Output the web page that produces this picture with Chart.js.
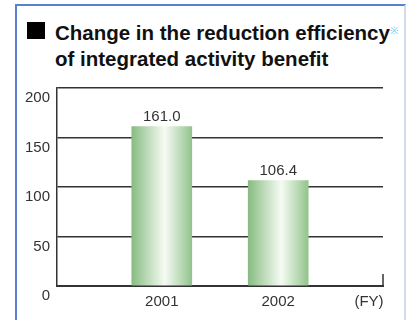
<!DOCTYPE html>
<html>
<head>
<meta charset="utf-8">
<script src="https://cdn.jsdelivr.net/npm/chart.js@4.4.0/dist/chart.umd.min.js"></script>
<style>
  html, body { margin:0; padding:0; background:#fff; }
  #wrap { position:relative; width:406px; height:320px; overflow:hidden; background:#fff; }
  #frame { position:absolute; left:15px; top:4px; width:387px; height:330px;
           border-left:2px solid #5b80cf; border-top:2px solid #5b80cf; border-right:2px solid #d3dbe9; }
  #title { position:absolute; left:55px; top:19.5px; font-family:"Liberation Sans", Arial, sans-serif;
           font-weight:bold; font-size:20.5px; line-height:26px; color:#111; white-space:nowrap; }
  #sq { position:absolute; left:27px; top:22px; width:18px; height:17px; background:#000; }
  #mark { font-size:10px; color:#7cc6ee; vertical-align:top; position:relative; top:-2px; font-weight:normal; }
  canvas { position:absolute; left:0; top:0; }
</style>
</head>
<body>
<div id="wrap">
  <div id="frame"></div>
  <div id="sq"></div>
  <div id="title">Change in the reduction efficiency<span id="mark">※</span><br>of integrated activity benefit</div>
  <canvas id="c" width="406" height="320"></canvas>
</div>
<script>
const categories = ['2001', '2002'];
const values = [161.0, 106.4];
const valueLabels = ['161.0', '106.4'];
const yTicks = [0, 50, 100, 150, 200];
const unitLabel = '(FY)';

const FONT = '"Liberation Sans", Arial, sans-serif';

const valueLabelPlugin = {
  id: 'valueLabels',
  afterDatasetsDraw(chart) {
    const ctx = chart.ctx;
    const meta = chart.getDatasetMeta(0);
    ctx.save();
    ctx.font = '15px ' + FONT;
    ctx.fillStyle = '#333';
    ctx.textAlign = 'center';
    ctx.textBaseline = 'bottom';
    meta.data.forEach((el, i) => {
      ctx.fillText(valueLabels[i], el.x, el.y - 2);
    });
    ctx.restore();
  }
};

const endTickPlugin = {
  id: 'endTick',
  afterDraw(chart) {
    const a = chart.chartArea;
    const ctx = chart.ctx;
    ctx.save();
    ctx.strokeStyle = '#333';
    ctx.lineWidth = 1.5;
    ctx.beginPath();
    ctx.moveTo(a.right, a.bottom);
    ctx.lineTo(a.right, a.bottom - 12);
    ctx.stroke();
    ctx.restore();
  }
};

new Chart(document.getElementById('c'), {
  type: 'bar',
  data: {
    labels: categories,
    datasets: [{
      data: values.map((v, i) => ({ x: i, y: v })),
      backgroundColor(ctx) {
        const chart = ctx.chart;
        const xs = chart.scales && chart.scales.x;
        if (!xs || ctx.dataIndex === undefined) return '#9cc896';
        const cx = xs.getPixelForValue(ctx.dataIndex);
        if (!isFinite(cx)) return '#9cc896';
        const g = chart.ctx.createLinearGradient(cx - 30, 0, cx + 30, 0);
        g.addColorStop(0, '#88bc82');
        g.addColorStop(0.55, '#f6fbf4');
        g.addColorStop(1, '#92c48c');
        return g;
      },
      borderWidth: 0,
      barThickness: 60
    }]
  },
  options: {
    responsive: false,
    animation: false,
    events: [],
    layout: { padding: { left: 17, right: 23, top: 88, bottom: 0 } },
    plugins: { legend: { display: false }, tooltip: { enabled: false }, title: { display: false } },
    scales: {
      x: {
        type: 'linear',
        offset: false,
        min: -0.9,
        max: 1.9,
        afterBuildTicks(scale) {
          scale.ticks = [{ value: 0 }, { value: 1 }, { value: 1.78 }];
        },
        afterFit(scale) { scale.height = 34; },
        grid: { display: false, drawTicks: false },
        border: { display: true, color: '#333', width: 2 },
        ticks: {
          autoSkip: false,
          maxRotation: 0,
          padding: 7,
          color: '#333',
          font: { family: FONT, size: 15 },
          callback(v) {
            if (v === 0) return categories[0];
            if (v === 1) return categories[1];
            return unitLabel;
          }
        }
      },
      y: {
        min: 0,
        max: 200,
        afterBuildTicks(scale) {
          scale.ticks = yTicks.map(v => ({ value: v }));
        },
        afterFit(scale) { scale.width = 40; },
        grid: { color: '#333', lineWidth: 1.5, drawTicks: false },
        border: { display: true, color: '#333', width: 1.5 },
        ticks: {
          padding: 7,
          labelOffset: 10,
          color: '#333',
          font: { family: FONT, size: 15 }
        }
      }
    }
  },
  plugins: [valueLabelPlugin, endTickPlugin]
});
</script>
</body>
</html>
